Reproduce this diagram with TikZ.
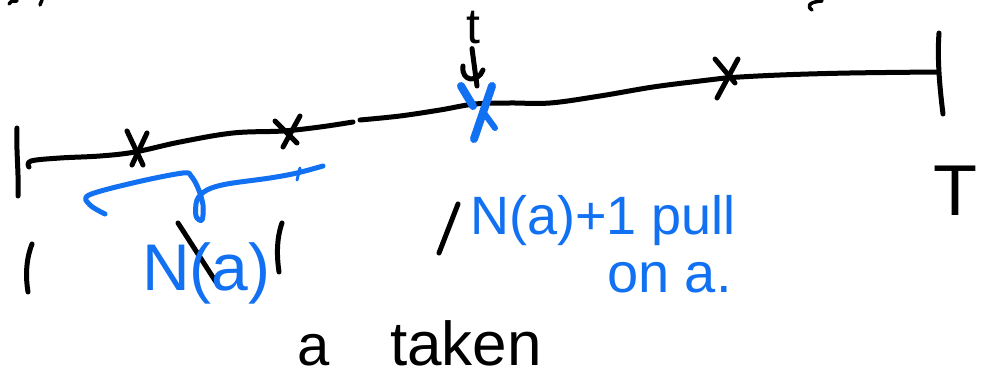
\documentclass[tikz,border=0pt]{standalone}
\usepackage{fontspec}
\setmainfont{Liberation Sans}
\definecolor{blueink}{RGB}{18,112,242}
\begin{document}
\begin{tikzpicture}[x=1pt,y=-1pt,
  ink/.style={line width=5pt, line cap=round, line join=round, black},
  bink/.style={line width=5pt, line cap=round, line join=round, blueink},
  lbl/.style={inner sep=0pt, anchor=base west},
  blbl/.style={lbl, text=blueink}]
\useasboundingbox[fill=white] (0,0) rectangle (981,387);
% cut-off fragments at the top edge
\draw[ink, line width=3.5pt] (9,4) .. controls (11,1) .. (17,1);
\draw[ink, line width=3.5pt] (42,0) -- (40,5);
\draw[ink, line width=3.5pt] (822,1) .. controls (806,2) and (808,8) .. (812,10);
% time line
\draw[ink] (17,128) .. controls (16,150) and (19,175) .. (18,196);
\draw[ink] (939,33) .. controls (937,60) and (940,90) .. (943,114);
\draw[ink] plot[smooth, tension=0.6] coordinates {(29,167) (31,161) (60,158) (100,156) (135,152) (180,142) (233,133) (283,131) (320,127) (353,122)};
\draw[ink] plot[smooth, tension=0.6] coordinates {(360,120) (400,116) (440,110) (475,104) (510,103) (550,103) (600,96) (653,87) (700,81) (725,78) (780,75) (850,73) (938,72)};
% event crosses
\draw[ink] (127,131) -- (143,165); \draw[ink] (147,133) -- (132,165);
\draw[ink] (275,121) -- (297,143); \draw[ink] (300,116) -- (283,147);
\draw[ink] (715,59) -- (735,83);   \draw[ink] (738,59) -- (717,98);
% blue cross (time t)
\coordinate (bx) at (477,86);
\draw[bink, line width=8pt] (461,86) -- (473,106);
\draw[bink, line width=8pt] (492,86) -- (474,139);
\draw[bink, line width=6pt] (484,113) -- (495,128);
% t with arrow
\node[lbl, anchor=base, font=\fontsize{50}{50}\selectfont] (t) at (473,44) {t};
\draw[ink] (t.south) ++(-1,4) -- (bx);
\draw[ink] (463,66) .. controls (461,82) and (478,83) .. (483,70);
% blue brace
\draw[bink] plot[smooth, tension=0.55] coordinates {(105,214) (90,205) (89,195) (137,182) (183,173) (191,176) (198,188) (203,205) (202,220) (196,216) (197,200) (207,190) (227,184) (270,178) (297,173) (323,166)};
\draw[bink, line width=3pt] (300,168) -- (297,180);
% black stray strokes
\draw[ink] (32,244) .. controls (25,262) and (26,280) .. (28,292);
\draw[ink] (282,223) .. controls (276,240) and (277,258) .. (279,272);
\draw[ink] (178,223) -- (216,282);
\draw[ink] (458,204) -- (439,253);
% labels
\node[blbl, font=\fontsize{66}{66}\selectfont] (na) at (142,290) {N(a)};
\node[blbl, font=\fontsize{54}{54}\selectfont] (pull) at (470,234) {N(a)+1 pull};
\node[blbl, font=\fontsize{56}{56}\selectfont] (ona) at (607,292) {on a.};
\node[lbl, font=\fontsize{72}{72}\selectfont] (T) at (933,215) {T};
\node[lbl, font=\fontsize{58}{58}\selectfont] (a) at (297,365) {a};
\node[lbl, font=\fontsize{62}{62}\selectfont] (taken) at (390,365) {taken};
\end{tikzpicture}
\end{document}
